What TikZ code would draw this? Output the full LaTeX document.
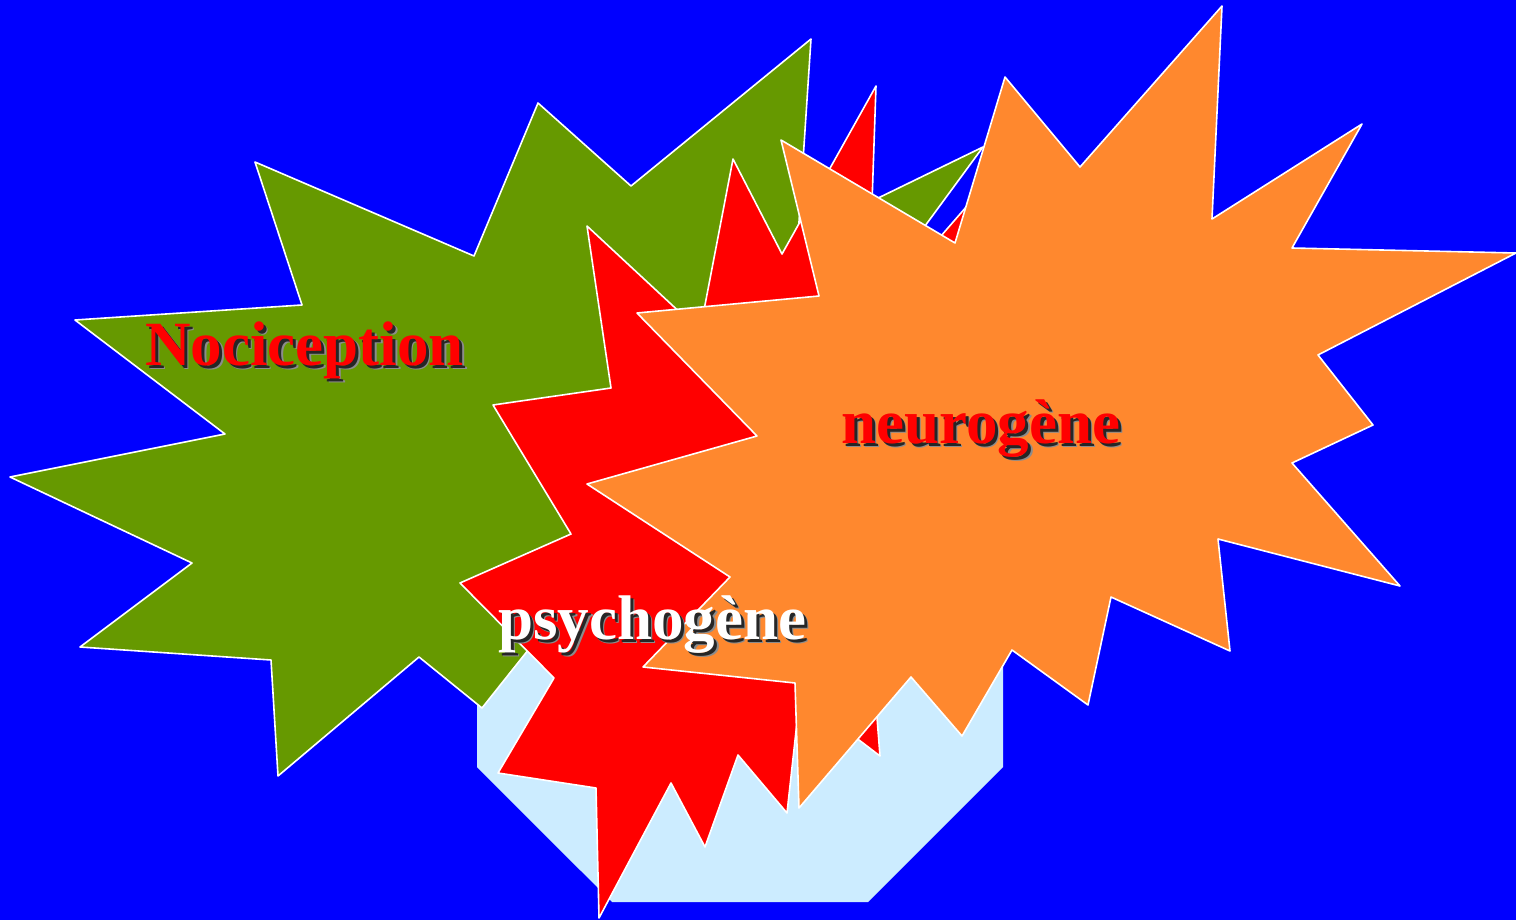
\documentclass[tikz,border=0pt]{standalone}
\usepackage{fontspec}
\setmainfont{Liberation Serif}
\definecolor{bgblue}{RGB}{0,0,255}
\definecolor{leaf}{RGB}{102,153,0}
\definecolor{hot}{RGB}{255,0,0}
\definecolor{flame}{RGB}{255,136,46}
\definecolor{pale}{RGB}{204,236,255}
\newcommand{\shadowtext}[2]{\rlap{\hspace{4.5pt}\raisebox{-4.5pt}{\color{black!45}#2}}\rlap{\hspace{3pt}\raisebox{-3pt}{\color{black!85}#2}}{\color{#1}#2}}
\tikzset{
  starshape/.style={draw=white, line width=1.6pt, line join=round},
  lbl/.style={inner sep=0pt, anchor=base west, font=\fontsize{63}{70}\selectfont\bfseries}
}
\begin{document}
\begin{tikzpicture}[x=1pt,y=-1pt]
\useasboundingbox (0,0) rectangle (1516,920);
\fill[bgblue] (0,0) rectangle (1516,920);
% octagon
\fill[pale] (612,376) -- (868,376) -- (1003,511) -- (1003,767) -- (868,902) -- (612,902) -- (477,767) -- (477,511) -- cycle;
% green star
\filldraw[starshape, fill=leaf] (10,477) -- (225,434) -- (75,320) -- (302,305) -- (255,162) -- (474,256) -- (538,103) -- (631,186) -- (811,39) -- (798,237) -- (983,147) -- (900,260) -- (760,400) -- (640,480) -- (560,610) -- (482,708) -- (419,657) -- (278,776) -- (271,660) -- (80,647) -- (192,563) -- cycle;
% red star
\filldraw[starshape, fill=hot] (587,226) -- (700,331) -- (733,159) -- (782,254) -- (876,86) -- (868,320) -- (1000,168) -- (960,400) -- (871,640) -- (880,756) -- (800,695) -- (787,813) -- (738,755) -- (705,847) -- (671,783) -- (599,918) -- (596,788) -- (498,773) -- (554,678) -- (460,583) -- (571,534) -- (493,405) -- (611,388) -- cycle;
% orange star
\filldraw[starshape, fill=flame] (1222,6) -- (1212,219) -- (1362,124) -- (1292,248) -- (1516,253) -- (1318,355) -- (1373,425) -- (1292,463) -- (1400,586) -- (1218,539) -- (1230,651) -- (1111,597) -- (1088,705) -- (1012,650) -- (962,736) -- (911,677) -- (799,808) -- (795,683) -- (643,667) -- (730,577) -- (587,484) -- (757,436) -- (637,313) -- (819,296) -- (781,140) -- (955,243) -- (1005,77) -- (1080,167) -- cycle;
% labels with shadows
\node[lbl] (noc) at (145,365) {\shadowtext{hot}{Nociception}};
\node[lbl] (psy) at (498,639) {\shadowtext{white}{psychogène}};
\node[lbl] (neu) at (841,443) {\shadowtext{hot}{neurogène}};
\end{tikzpicture}
\end{document}
